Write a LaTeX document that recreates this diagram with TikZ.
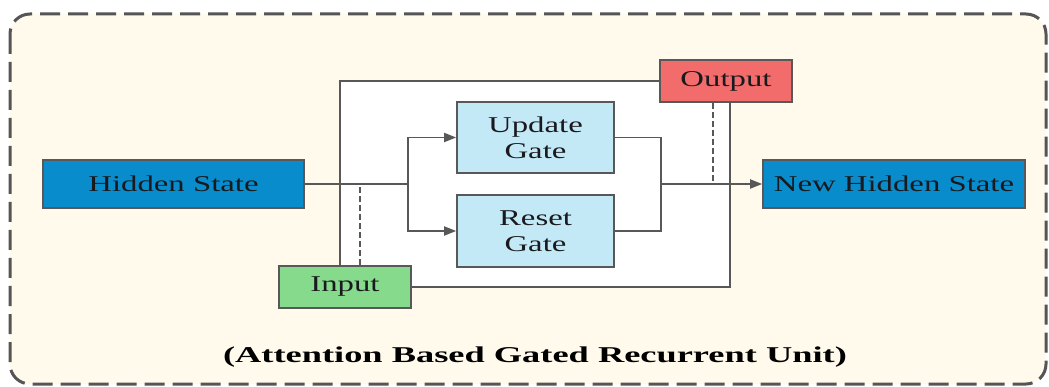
\documentclass[tikz,border=0pt]{standalone}
\usepackage{fontspec}
\setmainfont{Liberation Serif}
\usetikzlibrary{arrows.meta}
\definecolor{hsblue}{RGB}{8,140,204}
\definecolor{gateblue}{RGB}{196,233,246}
\definecolor{outred}{RGB}{242,108,108}
\definecolor{ingreen}{RGB}{134,218,140}
\definecolor{linegray}{RGB}{88,88,88}
\definecolor{framegray}{RGB}{85,85,85}
\definecolor{cream}{RGB}{255,250,235}
\definecolor{textdark}{RGB}{25,25,30}
\newcommand{\wtext}[1]{\scalebox{1.45}[1]{#1}}

\begin{document}
\begin{tikzpicture}[x=1pt,y=-1pt,
    box/.style={draw=linegray, line width=1.6pt, inner sep=0pt, align=center,
      font=\fontsize{22.6}{26}\selectfont, text=textdark},
    conn/.style={linegray, line width=1.8pt},
    arr/.style={conn, -{Triangle[length=12pt,width=9pt]}},
    dashline/.style={conn, dash pattern=on 6pt off 3pt}]
  \useasboundingbox (0,0) rectangle (1049,387);
  % frame and white loop area
  \draw[fill=cream, draw=framegray, line width=3pt, rounded corners=20pt,
    dash pattern=on 20pt off 8pt] (10,14) rectangle (1046,384);
  \fill[white] (340,81) rectangle (730,287);
  % blocks
  \node[box, fill=hsblue, minimum width=261pt, minimum height=48pt] %
    (hs) at (173.5,184) {\wtext{Hidden State}};
  \node[box, fill=hsblue, minimum width=262pt, minimum height=48pt] %
    (nhs) at (894,184) {\wtext{New Hidden State}};
  \node[box, fill=gateblue, minimum width=157pt, minimum height=71pt] %
    (ug) at (535.5,137.5) {\wtext{Update}\\\wtext{Gate}};
  \node[box, fill=gateblue, minimum width=157pt, minimum height=72pt] %
    (rg) at (535.5,231) {\wtext{Reset}\\\wtext{Gate}};
  \node[box, fill=outred, minimum width=132pt, minimum height=42pt] %
    (out) at (726,81) {\wtext{Output}};
  \node[box, fill=ingreen, minimum width=132pt, minimum height=42pt] %
    (in) at (345,287) {\wtext{Input}};
  \coordinate (split) at (408,184) ;
  \coordinate (merge) at (661,184) ;
  % connectors
  \draw[conn] (hs.east) -- (split) ;
  \draw[arr] (split) |- (ug.west) ;
  \draw[arr] (split) |- (rg.west) ;
  \draw[conn] (ug.east) -| (merge) ;
  \draw[conn] (rg.east) -| (merge) ;
  \draw[arr] (merge) -- (nhs.west) ;
  \draw[conn] ([xshift=-5pt]in.north) |- (out.west) ;
  \draw[dashline] ([xshift=15pt]in.north) -- ([xshift=15pt]in.north |- split) ;
  \draw[dashline] ([xshift=-13pt]out.south) -- ([xshift=-13pt]out.south |- merge) ;
  \draw[conn] ([xshift=4pt]out.south) |- (in.east) ;
  % caption
  \node[font=\bfseries\fontsize{22.6}{26}\selectfont, anchor=base] %
    (title) at (535,362) {\scalebox{1.61}[1]{(Attention Based Gated Recurrent Unit)}};
\end{tikzpicture}
\end{document}
